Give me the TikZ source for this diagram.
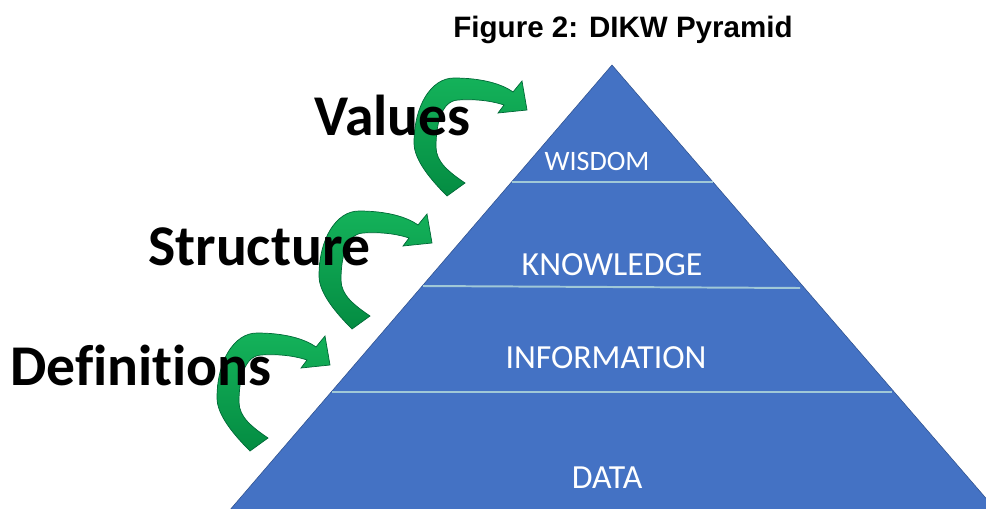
\documentclass[tikz,border=0pt]{standalone}
\usepackage{fontspec}
\setmainfont{Carlito}[Ligatures={NoCommon}]
\newfontfamily\titlefont{Liberation Sans}
\usetikzlibrary{calc}
\definecolor{pyrblue}{RGB}{68,114,196}
\definecolor{pyredge}{RGB}{47,82,143}
\definecolor{pyrline}{RGB}{160,200,215}
\definecolor{arrowlight}{RGB}{20,178,90}
\definecolor{arrowdark}{RGB}{4,140,66}
\definecolor{arrowedge}{RGB}{0,105,55}
\def\curvedarrow(#1){\begin{scope}[shift={(#1)}]
	\path[draw=arrowedge, line width=0.5pt, top color=arrowlight, bottom color=arrowdark]
	(-80,86) .. controls (-96,70) and (-113,50) .. (-113,33)
	.. controls (-113,-4) and (-96,-32) .. (-73,-32)
	.. controls (-45,-32) and (-25,-26) .. (-14,-18)
	-- (-5,-29) -- (0,0) -- (-29,3) -- (-23,-5)
	.. controls (-38,-10) and (-55,-11) .. (-69,-10)
	.. controls (-86,-9) and (-91,15) .. (-91,37)
	.. controls (-91,52) and (-78,62) .. (-62,73) -- cycle;
\end{scope}}

\begin{document}
\begin{tikzpicture}[x=0.025cm, y=-0.025cm,
	sidelabel/.style={inner sep=0, anchor=base west, font=\bfseries\fontsize{41}{43}\selectfont},
	layerlabel/.style={inner sep=0, anchor=base, text=white, font=\fontsize{24}{26}\selectfont}]
	%%%%% START %%%%%
	\useasboundingbox (0,0) rectangle (986,508);
	\clip (0,0) rectangle (986,508);
	
	\node[inner sep=0, anchor=base, font=\titlefont\bfseries\fontsize{21}{23}\selectfont] (title) at (623,37) {Figure 2: DIKW Pyramid};
	
	% pyramid
	\draw[fill=pyrblue, draw=pyredge, line width=0.4pt] (612,65) -- (223,518) -- (1003,518) -- cycle;
	\draw[pyrline, line width=1.4pt] (512,182) -- (713,182);
	\draw[pyrline, line width=1.4pt] (423,286) -- (800,288);
	\draw[pyrline, line width=1.4pt] (332,392) -- (892,392);
	
	\node[layerlabel, font=\fontsize{20}{22}\selectfont] (wisdom) at (597,170) {WISDOM};
	\node[layerlabel] (knowledge) at (612,275) {KNOWLEDGE};
	\node[layerlabel] (information) at (606,368) {INFORMATION};
	\node[layerlabel] (data) at (607,488) {DATA};
	
	% arrows
	\curvedarrow(527,110)
	\curvedarrow(432,243)
	\curvedarrow(330,365)
	
	\node[sidelabel] (values) at (314,135) {Values};
	\node[sidelabel] (structure) at (148,265) {Structure};
	\node[sidelabel] (definitions) at (10,385) {Definitions};
	
	%%%%% END %%%%%
\end{tikzpicture}
\end{document}
